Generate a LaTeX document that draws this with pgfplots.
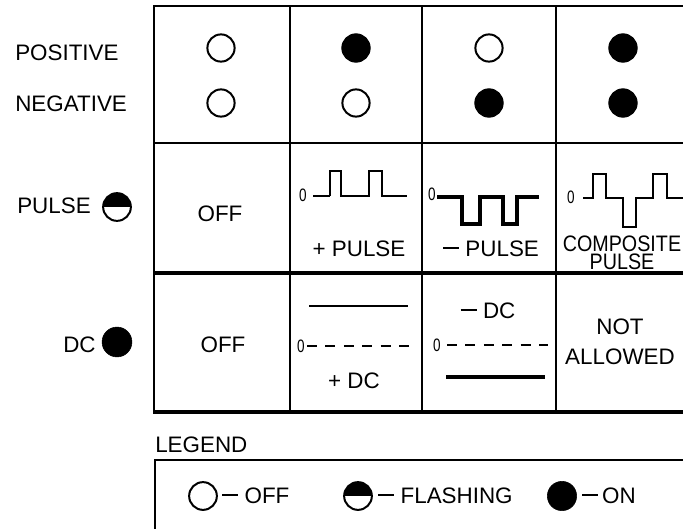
\documentclass[border=0pt]{standalone}
\usepackage{pgfplots}
\pgfplotsset{compat=1.18}
\usepackage{graphicx}
\usepackage{fontspec}
\setmainfont{Liberation Sans}
\usetikzlibrary{plotmarks}
\newcommand\fs{\fontsize{16.8}{17}\selectfont}
\newcommand\zs{\fontsize{13.5}{14}\selectfont}
\newcommand\zero{\scalebox{0.75}[1]{\zs 0}}
\newcommand\dash{\rule[0.33em]{0.72em}{0.09em}}
\begin{document}
\begin{tikzpicture}
\begin{axis}[
  scale only axis, width=512.25pt, height=396.75pt,
  xmin=0, xmax=683, ymin=0, ymax=529, y dir=reverse,
  hide axis, clip=true,
]
% ---- table grid ----
\addplot[black, line width=1.7pt] coordinates {(154,6) (700,6)};
\addplot[black, line width=1.9pt] coordinates {(154,143) (700,143)};
\addplot[black, line width=2.8pt] coordinates {(154,273) (700,273)};
\addplot[black, line width=2.8pt] coordinates {(153,412) (700,412)};
\addplot[black, line width=2.0pt] coordinates {(154,5) (154,413)};
\addplot[black, line width=2.2pt] coordinates {(290,5) (290,413)};
\addplot[black, line width=2.2pt] coordinates {(422,5) (422,413)};
\addplot[black, line width=2.2pt] coordinates {(556,5) (556,413)};
% ---- legend box ----
\addplot[black, line width=1.5pt] coordinates {(155,540) (155,460) (700,460)};
% ---- row 1 lamps ----
\addplot[only marks, mark=o, mark size=10.2pt, mark options={draw=black, line width=1.5pt}]
  coordinates {(221,48) (221,103) (356,103) (489,48)};
\addplot[only marks, mark=*, mark size=10.6pt, mark options={draw=black, fill=black, line width=0.8pt}]
  coordinates {(356,48) (489,103) (623,48) (623,103)};
% ---- side symbols ----
\addplot[only marks, mark=halfcircle*, mark size=10.4pt, mark options={draw=black, fill=black, line width=1.5pt}]
  coordinates {(117,207)};
\addplot[only marks, mark=*, mark size=11.2pt, mark options={draw=black, fill=black}]
  coordinates {(117,342)};
% ---- legend symbols ----
\addplot[only marks, mark=o, mark size=10.4pt, mark options={draw=black, line width=1.5pt}]
  coordinates {(203,496)};
\addplot[only marks, mark=halfcircle*, mark size=10.4pt, mark options={draw=black, fill=black, line width=1.5pt}]
  coordinates {(358,496)};
\addplot[only marks, mark=*, mark size=11pt, mark options={draw=black, fill=black}]
  coordinates {(562,496)};
% ---- row 2 waveforms ----
\addplot[black, line width=0.9pt] coordinates {(313,196) (330,196)};
\addplot[black, line width=2pt, sharp plot] coordinates {(330,196) (330,171) (341,171) (341,196) (369,196) (369,171) (382,171) (382,196) (407,196)};
\addplot[black, line width=2.3pt, sharp plot] coordinates {(437,197) (462,197) (462,224) (480,224) (480,197) (503,197) (503,224) (517,224) (517,197) (539,197)};
\addplot[black, line width=2pt, sharp plot] coordinates {(583,198) (593,198) (593,174) (606,174) (606,198) (623,198) (623,227) (636,227) (636,198) (653,198) (653,174) (667,174) (667,198) (690,198)};
% ---- row 3 DC levels ----
\addplot[black, line width=2.2pt] coordinates {(309,306) (408,306)};
\addplot[black, line width=0.9pt, dash pattern=on 7.5pt off 6.3pt] coordinates {(307,346) (412,346)};
\addplot[black, line width=0.9pt, dash pattern=on 7.5pt off 6.3pt] coordinates {(447,345) (548,345)};
\addplot[black, line width=2.8pt] coordinates {(446,377) (545,377)};
% ---- texts ----
\node[font=\fs, anchor=west, inner sep=0pt] at (axis cs:15,53) {POSITIVE};
\node[font=\fs, anchor=west, inner sep=0pt] at (axis cs:15,104) {NEGATIVE};
\node[font=\fs, anchor=west, inner sep=0pt] at (axis cs:17,206) {PULSE};
\node[font=\fs, anchor=west, inner sep=0pt] at (axis cs:63,345) {DC};
\node[font=\fs, inner sep=0pt] at (axis cs:220,214) {OFF};
\node[font=\fs, inner sep=0pt] at (axis cs:223,345) {OFF};
\node[inner sep=0pt] at (axis cs:303,195) {\zero};
\node[inner sep=0pt] at (axis cs:432,194) {\zero};
\node[inner sep=0pt] at (axis cs:571,197) {\zero};
\node[inner sep=0pt] at (axis cs:301,346) {\zero};
\node[inner sep=0pt] at (axis cs:437,345) {\zero};
\node[font=\fs, inner sep=0pt] at (axis cs:359,249) {+ PULSE};
\node[font=\fs, inner sep=0pt] at (axis cs:491,249) {\dash\ PULSE};
\node[font={\fontsize{16.8}{13.5}\selectfont}, inner sep=0pt, align=center] at (axis cs:622,253) {\scalebox{0.88}[1]{COMPOSITE}\\\scalebox{0.88}[1]{PULSE}};
\node[font=\fs, inner sep=0pt] at (axis cs:354,381) {+ DC};
\node[font=\fs, inner sep=0pt] at (axis cs:488,311) {\dash\ DC};
\node[font={\fontsize{16.8}{22.5}\selectfont}, inner sep=0pt, align=center] at (axis cs:620,342) {NOT\\ALLOWED};
\node[font=\fs, anchor=south west, inner sep=0pt] at (axis cs:155,453) {LEGEND};
\node[font=\fs, anchor=west, inner sep=0pt] at (axis cs:222,496) {\dash\ OFF};
\node[font=\fs, anchor=west, inner sep=0pt] at (axis cs:378,496) {\dash\ FLASHING};
\node[font=\fs, anchor=west, inner sep=0pt] at (axis cs:582,496) {\dash\,ON};
\coordinate (SW) at (rel axis cs:0,0);
\coordinate (NE) at (rel axis cs:1,1);
\end{axis}
\pgfresetboundingbox
\useasboundingbox (SW) rectangle (NE);
\end{tikzpicture}
\end{document}
